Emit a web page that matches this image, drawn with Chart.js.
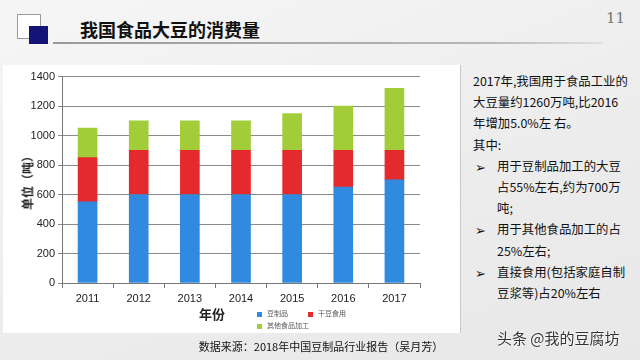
<!DOCTYPE html>
<html>
<head>
<meta charset="utf-8">
<script src="https://cdn.jsdelivr.net/npm/chart.js@4"></script>
<style>
  body { margin: 0; width: 640px; height: 360px; overflow: hidden;
         background: linear-gradient(160deg, #f6f6f6 0%, #ececec 60%, #e8e8e8 100%);
         font-family: "Noto Sans CJK SC", "Noto Sans", sans-serif; position: relative; }
  .abs { position: absolute; white-space: nowrap; }
  #panel { position: absolute; left: 3px; top: 65px; width: 457px; height: 268px; background: #fff;
           border-right: 1px solid #c8c8c8; }
  #wrap { position: absolute; left: 15px; top: 67px; width: 440px; height: 241px; }
  #sq1 { left: 17px; top: 14px; width: 22px; height: 23px; border: 1px solid #9a9a9a; background: #fff; }
  #sq2 { left: 29px; top: 26px; width: 19px; height: 18px; background: #141478; }
  #rule { left: 53px; top: 42px; width: 550px; height: 2px; background: linear-gradient(90deg, #9a9a9a, #b8b8b8 80%, rgba(190,190,190,0.3)); }
  #title { left: 80px; top: 16px; font-size: 18px; font-weight: bold; color: #111; }
  #page { left: 606px; top: 9px; font-size: 15px; color: #777; font-family: "DejaVu Serif", serif; }
  #ytitle { left: 27px; top: 180px; font-size: 12px; font-weight: bold; color: #222; transform: translate(-50%, -50%) rotate(-90deg); }
  #xtitle { left: 212px; top: 313px; font-size: 13px; font-weight: bold; color: #222; transform: translate(-50%, -50%); }
  .leg { font-size: 7px; color: #555; transform: translateY(-50%); }
  .leg i { display: inline-block; width: 5px; height: 5px; margin-right: 5px; vertical-align: middle; }
  #notes { left: 473px; top: 71px; font-size: 12.4px; color: #111; line-height: 21.2px; }
  #notes .b { position: relative; padding-left: 24px; }
  #notes .b:before { content: "\27A2"; position: absolute; left: 2px; top: 0; font-size: 13px; }
  #src { left: 321px; top: 346px; font-size: 11px; color: #111; transform: translate(-50%, -50%); }
  #mark { left: 497px; top: 337px; font-size: 15px; color: #333; transform: translateY(-50%);
          text-shadow: 0 0 2px #fff, 0 0 2px #fff; }
</style>
</head>
<body>
<div id="panel"></div>
<div class="abs" id="sq1"></div>
<div class="abs" id="sq2"></div>
<div class="abs" id="rule"></div>
<div class="abs" id="title">我国食品大豆的消费量</div>
<div class="abs" id="page">11</div>
<div id="wrap"><canvas id="myChart"></canvas></div>
<div class="abs" id="ytitle">单位（吨）</div>
<div class="abs" id="xtitle">年份</div>
<div id="legend"></div>
<div class="abs" id="notes">
  <div>2017年,我国用于食品工业的</div>
  <div>大豆量约1260万吨,比2016</div>
  <div>年增加5.0%左 右。</div>
  <div>其中:</div>
  <div class="b">用于豆制品加工的大豆<br>占55%左右,约为700万<br>吨;</div>
  <div class="b">用于其他食品加工的占<br>25%左右;</div>
  <div class="b">直接食用(包括家庭自制<br>豆浆等)占20%左右</div>
</div>
<div class="abs" id="src">数据来源：2018年中国豆制品行业报告（吴月芳）</div>
<div class="abs" id="mark">头条 @我的豆腐坊</div>
<script>
var years = ["2011", "2012", "2013", "2014", "2015", "2016", "2017"];
var seriesNames = ["豆制品", "干豆食用", "其他食品加工"];
var soyProducts = [550, 600, 600, 600, 600, 650, 700];
var directUse = [300, 300, 300, 300, 300, 250, 200];
var otherFood = [200, 200, 200, 200, 250, 300, 420];
var colors = ["#2f8ae0", "#e52a2e", "#a2cc38"];

// legend (html, placed like the original)
var legPos = [[257, 313], [308, 313], [257, 325]];
var legend = document.getElementById("legend");
seriesNames.forEach(function (name, i) {
    var d = document.createElement("div");
    d.className = "abs leg";
    d.style.left = legPos[i][0] + "px";
    d.style.top = legPos[i][1] + "px";
    d.innerHTML = '<i style="background:' + colors[i] + '"></i>' + name;
    legend.appendChild(d);
});

var ctx = document.getElementById("myChart").getContext('2d');
var myChart = new Chart(ctx, {
    type: 'bar',
    data: {
        labels: years,
        datasets: [
            { label: seriesNames[0], data: soyProducts, backgroundColor: colors[0] },
            { label: seriesNames[1], data: directUse, backgroundColor: colors[1] },
            { label: seriesNames[2], data: otherFood, backgroundColor: colors[2] }
        ]
    },
    options: {
        responsive: true,
        maintainAspectRatio: false,
        animation: false,
        layout: { padding: { top: 5, right: 35, left: 0, bottom: 0 } },
        plugins: { legend: { display: false }, tooltip: { enabled: false } },
        datasets: { bar: { barThickness: 19 } },
        scales: {
            x: {
                stacked: true,
                afterFit: function (s) { s.height = 25; },
                grid: { display: true, drawOnChartArea: false, offset: true, tickLength: 5, color: '#777' },
                border: { color: '#777' },
                ticks: { color: '#222', font: { size: 11, family: 'Liberation Sans' }, padding: 4 }
            },
            y: {
                stacked: true,
                min: 0, max: 1400,
                afterFit: function (s) { s.width = 47; },
                grid: { color: '#8a8a8a', tickLength: 4 },
                border: { color: '#777' },
                ticks: {
                    stepSize: 200, color: '#222', font: { size: 11, family: 'Liberation Sans' }, padding: 3,
                    callback: function (v) { return String(v); }
                }
            }
        }
    }
});
</script>
</body>
</html>
